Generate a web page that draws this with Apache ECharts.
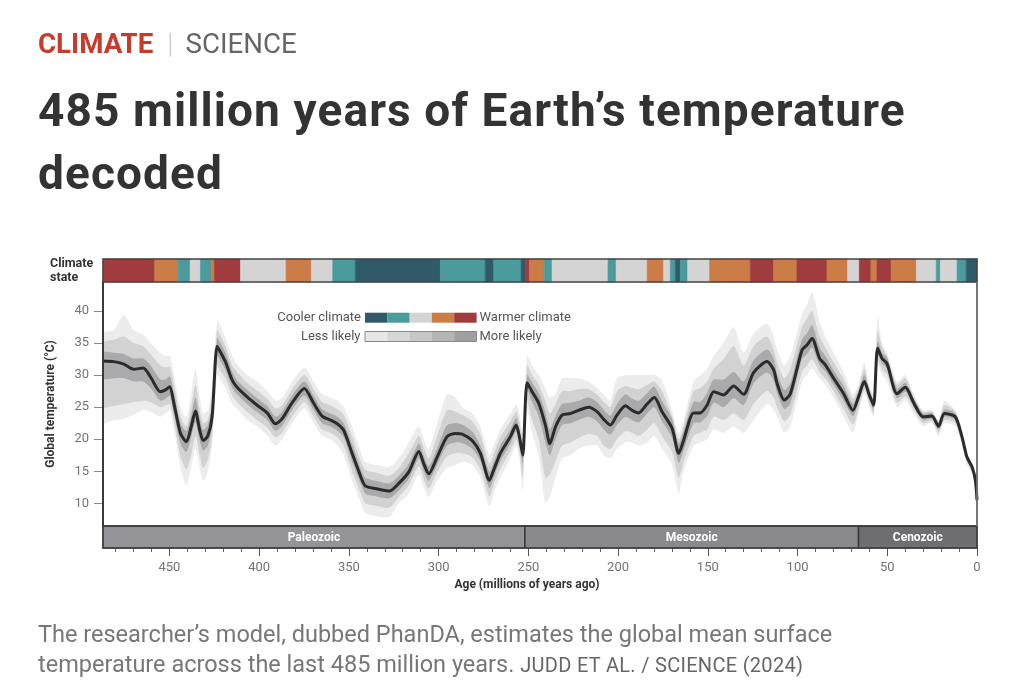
<!DOCTYPE html>
<html><head><meta charset="utf-8">
<script src="https://cdn.jsdelivr.net/npm/echarts@6/dist/echarts.min.js"></script>
<style>
html,body{margin:0;padding:0;background:#fff;width:1024px;height:698px;overflow:hidden;font-family:Roboto,'Noto Sans',sans-serif;}
#chart{position:absolute;left:0;top:0;width:1024px;height:698px;}
.kicker{position:absolute;left:38px;top:29px;font-size:27.7px;line-height:30px;white-space:nowrap;}
.kicker .c{color:#c63b2b;font-weight:700;}
.kicker .sep{color:#c8c8c8;font-weight:300;margin:0 12px 0 14px;}
.kicker .s{color:#666;font-weight:400;}
.title{position:absolute;left:38px;top:79px;font-size:46px;line-height:63px;font-weight:700;color:#333;white-space:nowrap;letter-spacing:1.1px;}
.caption{position:absolute;left:38px;top:619px;font-size:23.5px;line-height:30px;color:#777;white-space:nowrap;}
.caption .credit{font-size:20px;letter-spacing:0.3px;color:#666;}
</style></head>
<body>
<div id="chart"></div>
<div class="kicker"><span class="c">CLIMATE</span><span class="sep">|</span><span class="s">SCIENCE</span></div>
<div class="title">485 million years of Earth’s temperature<br>decoded</div>
<div class="caption">The researcher’s model, dubbed PhanDA, estimates the global mean surface<br>temperature across the last 485 million years. <span class="credit">JUDD ET AL. / SCIENCE (2024)</span></div>
<script>
// ---- Data (ages in millions of years ago) ----
const ages = [487,481,475.4,469.9,464.6,460.5,455,452.2,449.8,447.5,
443.8,440.5,437.9,435.5,433.1,431.2,428.6,426.2,423.4,421.2,
418.8,415,412.3,406.7,401.1,395.5,390.9,387.2,381.6,374.8,
369.6,364.9,360.3,356.5,352.9,348.2,342.6,340.8,335.2,327.4,
322.2,316.6,311,308.3,305.5,300.8,295.3,290.6,286.9,281.3,
276.7,271.7,269.3,265.6,260,256.8,255,253.1,250.7,247.9,
244.2,240.5,238,234.9,231.2,226.6,222,216.4,211.7,208,
204.3,200.6,195.9,192.2,188.5,183.8,179.8,175.5,169.9,166.2,
163.5,157.9,154.2,150.4,146.7,141.2,135.6,130,124.5,117,
113.3,111.4,107.4,104,97.5,94.7,91.9,87.7,84.5,79.9,
74.3,69.1,66,62.8,60,57.6,55.4,52.9,50.1,44.6,
39.9,35.3,30.1,25.1,21.4,18.2,12.1,8.4,5.6,2.8,
0.9,0];
const temp = [32.2,32.1,31.7,30.9,31.1,29.7,27.4,27.7,28.2,25.6,
20.9,19.6,21.9,24.4,21.4,19.8,20.5,23.5,34.5,33.4,
32.1,29.2,28.1,26.6,25.3,24.1,22.4,23.2,25.7,27.9,
25.6,23.6,23,22.4,21.4,17.8,13.6,12.7,12.3,11.9,
13.1,14.9,18.1,16.2,14.6,17.2,20.4,20.9,20.8,19.8,
17.8,13.6,15.2,17.8,20.4,22.2,20.4,17.5,28.8,27.4,
25.6,22.2,19.3,21.9,23.75,24,24.5,25,24.3,23.1,
22.2,23.75,25.2,24.5,24.1,25.5,26.5,24.3,21.7,17.8,
19.8,24.1,24.1,25.3,27.4,26.9,28.3,27,30.4,32.1,
30.8,28.7,26.1,27.1,33.9,34.7,35.7,32.6,31.6,29.5,
27.1,24.5,26.6,29,26.9,25.3,34.2,32.6,31.8,27.1,
28.1,25.7,23.5,23.6,22,24,23.5,20.4,17.2,15.7,
13.6,10.5];
const outerLo = [22.5,23,23.2,23.8,24.5,24.3,23.5,24,24.5,21.5,
15.5,12.8,15.5,18.5,15.5,13.5,15,19,30,29,
28,25.5,24.8,23,22,20.5,19,20,22.5,24.8,
22.5,20.5,20,19,17.5,13.5,9.5,8.5,8,7.9,
10,11.5,14.5,12.5,11,13.5,15.5,16,16.5,16,
14,9.5,11.5,14,17,19,17,12,24.5,21,
17.5,10,11,14,17,17.5,18.5,19,19,17.5,
17,18.5,19.5,19.5,19,19.5,20.5,18.5,16,11.5,
15,19,19.5,20,21.5,21,22,21,23,25.5,
24.5,23.5,21,22,29,30,31,29.5,28.5,26.5,
23.5,21,24,27,25,23.5,31.5,30,29,25,
26,24,22,22.5,20.5,22.5,22,19,16,14.5,
12,9.5];
const outerHi = [36.5,37,39.4,37,36.3,35,33.5,33,33,30,
25,23.5,27,31,26.5,24,24.5,28.5,38.5,37.5,
35.8,33,31.7,30,29,27.5,26,26.5,29,31.2,
29,27,26.5,26,25,22,17.5,16.5,16,15.7,
17,19.5,22,20,18.5,22.5,27,26.5,25,24,
22,17.5,19,21.5,24,25.5,24,21,33,31.5,
30,28,26.5,27,29.5,29.5,29.5,29,28,27,
26,29.5,30,30,30,30,30,29.2,24.5,21,
23,29,30,31,33,35,37.5,33.5,36.5,38,
36,34,31.5,33,39.5,41,43,38.5,36,33.5,
30.5,27,28.5,32,28.5,27,39,35,33.5,29,
30,27,24.5,24.5,23,26,24.5,21.5,18,16.5,
14.5,11.5];
const midLo = [25,25.2,25.5,25.8,26,25.8,25,25.3,25.5,22.8,
17.3,15.3,17.5,20.5,17.5,15.5,16.8,20.5,31.5,30.5,
29.5,26.8,25.8,24.3,23,21.8,20.3,21,23.5,25.8,
23.5,21.5,21,20.3,19,15,11,10,9.6,9.3,
11,12.8,15.8,13.8,12.3,14.8,17.3,17.8,17.8,17.2,
15.3,11,12.8,15.3,18.2,20,18,14,26,23,
20,14,14.5,16.5,19,19.5,20.2,20.8,20.5,19,
18.5,20,21.2,21,20.5,21.5,22.5,20.5,18,14,
16.5,20.5,21,21.5,23.5,23,24,23,25.5,27.5,
26.5,25,22.8,23.8,30.5,31.5,32.5,30.5,29.5,27.5,
24.7,22.3,24.8,27.7,25.6,24,32.3,30.8,30,25.7,
26.7,24.6,22.5,22.8,21,23,22.5,19.5,16.4,14.9,
12.6,9.8];
const midHi = [35,35.5,36,35,34.5,33.3,31.5,31.2,31.3,28.5,
23.5,22,25,28.5,24.5,22.5,23,26.5,37,36,
34.5,31.5,30.5,28.8,27.6,26.3,24.8,25.3,27.8,30,
27.8,25.8,25.3,24.7,23.8,20.5,16,15.2,14.8,14.3,
15.5,17.8,20.5,18.7,17,20.5,24.5,24.3,23.8,22.8,
20.7,16.2,17.7,20.3,22.8,24.3,22.8,20,31.5,30,
28.5,26,24,25.5,27.5,27.5,27.8,27.8,27,25.8,
25,27.5,28.3,28,27.8,28.5,29,27.5,23.5,20,
22,27.5,28,29,31,32.5,34.5,31.5,34.5,36,
34,32,29.5,31,37.5,38.8,40,36,34.3,32,
29.3,26.3,28,31,28,26.5,37,34.3,33,28.5,
29.5,26.7,24.3,24.3,22.8,25.3,24.3,21.2,17.8,16.3,
14.3,11.2];
const innerLo = [29.5,29.5,29.5,29,29,28,26,26.3,26.8,24,
19.3,18,20.3,22.7,19.8,18.2,19,22,33,32,
30.8,28,27,25.5,24.2,23,21.3,22.1,24.6,26.8,
24.5,22.5,22,21.3,20.3,16.5,12.5,11.5,11.1,10.8,
12,13.8,17,15,13.5,16,19,19.5,19.4,18.5,
16.6,12.4,14,16.6,19.3,21.2,19.3,16.2,27.6,25.8,
23.5,19.5,17.5,20,22.2,22.5,23,23.5,22.8,21.5,
20.7,22.2,23.5,23,22.6,24,25,22.8,20.2,16.3,
18.3,22.5,22.6,23.6,25.7,25,26.4,25.3,28.7,30.4,
29.2,27.2,24.7,25.6,32.5,33.3,34.3,31.5,30.6,28.5,
26,23.6,25.8,28.3,26.2,24.7,33.3,31.8,31,26.4,
27.4,25.1,23,23.1,21.5,23.5,23,20,16.8,15.3,
13.1,10.1];
const innerHi = [33.5,33.5,33.3,32.6,32.6,31.5,29.3,29.3,29.8,27.2,
22.5,21.3,23.6,26.5,23.2,21.5,22.2,25.2,35.8,34.8,
33.5,30.5,29.2,27.7,26.4,25.2,23.5,24.3,26.8,29,
26.7,24.7,24,23.5,22.5,19.2,14.8,14,13.5,13.1,
14.3,16.2,19.3,17.4,15.8,18.6,22.2,22.5,22.3,21.2,
19,14.9,16.4,19,21.5,23.3,21.5,18.8,30,28.8,
27.2,24.2,21.5,23.6,25.5,25.7,26,26.5,25.8,24.6,
23.7,25.5,27,26.3,26,27.2,28.2,26,23.2,19.3,
21.3,25.8,25.8,27.2,29.3,29.3,30.5,29,32.3,34,
32.6,30.3,27.7,28.8,35.6,36.5,37.8,34.3,33,30.7,
28.3,25.5,27.5,30,27.6,26,35.3,33.5,32.7,27.9,
28.8,26.3,24,24.1,22.5,24.6,24,20.9,17.6,16.1,
14.1,10.9];

// Climate state segments: boundaries (Ma) and state (0 coolest .. 4 warmest)
const climateBreaks = [487,458.2,445.1,438.4,432.7,426.7,424.9,410.4,385,370.9,359,346.4,299,274,269.3,254,251.6,249.4,241.1,236.8,205.6,201.1,183.8,174.6,170.9,168.1,165.3,161.2,149,126.3,113.3,100.3,83.6,72.1,65.6,59.1,55.7,47.9,33.8,22.7,20.4,11.1,6,0];
const climateState = [4,3,1,2,1,3,4,2,3,2,1,0,1,0,1,0,4,3,1,2,1,2,3,2,1,0,1,2,3,4,3,4,3,2,4,3,4,3,2,1,2,1,0];
const climateColors = ['#30596a','#4b9a9c','#d4d4d4','#cb7c47','#a03c3d'];

// Eras
const eraNames = ['Paleozoic','Mesozoic','Cenozoic'];
const eraStart = [487,251.9,66];
const eraEnd = [251.9,66,0];
const eraColors = ['#949498','#8a8a8e','#6e6e72'];

// Axis ticks
const xMajorTicks = [0,50,100,150,200,250,300,350,400,450];
const xMinorTicks = [10,20,30,40,60,70,80,90,110,120,130,140,160,170,180,190,210,220,230,240,260,270,280,290,310,320,330,340,360,370,380,390,410,420,430,440,460,470,480];
const yTicks = [10,15,20,25,30,35,40];

const likelyColors = ['#e7e7e7','#d6d6d6','#c6c6c6','#b5b5b5','#a0a0a0'];

// ---- Chart ----
const chart = echarts.init(document.getElementById('chart'), null, {renderer:'canvas'});
const FONT = 'Roboto, "Noto Sans", sans-serif';
const L = 103, R = 977, W = R - L;
const TOP = 282, BOT = 526;
const X_MAX = 487;

function pairs(arr){ return ages.map((a,i)=>[a, arr[i]]); }

function band(name, lo, hi, color){
  return {
    type:'custom', name:name, xAxisIndex:1, yAxisIndex:1, silent:true, z:2,
    data:[[ages[0], hi[0]]], encode:{x:0, y:1},
    renderItem:function(params, api){
      const pts = [];
      for (let i=0;i<ages.length;i++) pts.push(api.coord([ages[i], hi[i]]));
      for (let i=ages.length-1;i>=0;i--) pts.push(api.coord([ages[i], lo[i]]));
      return {type:'polygon', shape:{points:pts, smooth:0.25, smoothConstraint:[[L,TOP],[R,BOT]]}, style:{fill:color}};
    }
  };
}

const xHidden = (g)=>({type:'value', gridIndex:g, inverse:true, min:0, max:X_MAX, show:false, axisLine:{onZero:false}});

const option = {
  animation:false,
  grid:[
    {left:L, top:259, width:W, height:23, show:false},
    {left:L, top:TOP, width:W, height:BOT-TOP, show:false},
    {left:L, top:526, width:W, height:22, show:false}
  ],
  xAxis:[
    xHidden(0), xHidden(1),
    {type:'value', gridIndex:2, inverse:true, min:0, max:X_MAX, position:'bottom',
     axisLine:{show:false, onZero:false}, splitLine:{show:false},
     axisTick:{show:true, customValues:xMajorTicks, length:8, lineStyle:{color:'#555', width:1}},
     axisLabel:{show:true, customValues:xMajorTicks, margin:13, fontSize:13, color:'#737373', fontFamily:FONT}},
    {type:'value', gridIndex:2, inverse:true, min:0, max:X_MAX, position:'bottom',
     axisLine:{show:false, onZero:false}, splitLine:{show:false}, axisLabel:{show:false},
     axisTick:{show:true, customValues:xMinorTicks, length:4, lineStyle:{color:'#666', width:1}}}
  ],
  yAxis:[
    {type:'value', gridIndex:0, min:0, max:1, show:false, axisLine:{onZero:false}},
    {type:'value', gridIndex:1, min:6.46, max:44.52, position:'left',
     name:'Global temperature (°C)', nameLocation:'middle', nameGap:46,
     nameTextStyle:{fontWeight:'bold', fontSize:12, color:'#333', fontFamily:FONT},
     axisLine:{show:true, onZero:false, lineStyle:{color:'#3a3a3a', width:2}},
     axisTick:{show:true, customValues:yTicks, length:9, lineStyle:{color:'#888'}},
     axisLabel:{show:true, customValues:yTicks, margin:14, fontSize:13, color:'#737373', fontFamily:FONT},
     splitLine:{show:false}},
    {type:'value', gridIndex:2, min:0, max:1, show:false, axisLine:{onZero:false}}
  ],
  series:[
    {type:'custom', name:'climate', xAxisIndex:0, yAxisIndex:0, silent:true,
     data: climateState.map((s,i)=>[climateBreaks[i], climateBreaks[i+1], s]),
     encode:{x:[0,1]},
     renderItem:function(params, api){
       const p0 = api.coord([api.value(0), 1]);
       const p1 = api.coord([api.value(1), 0]);
       const c = climateColors[api.value(2)];
       return {type:'rect', shape:{x:Math.min(p0[0],p1[0]), y:p0[1], width:Math.abs(p1[0]-p0[0]), height:p1[1]-p0[1]},
               style:{fill:c, stroke:c, lineWidth:0.6}};
     }},
    band('outer', outerLo, outerHi, '#ececec'),
    band('mid', midLo, midHi, '#d2d2d2'),
    band('inner', innerLo, innerHi, '#aaaaac'),
    {type:'line', name:'temperature', xAxisIndex:1, yAxisIndex:1, data:pairs(temp), symbol:'none', smooth:0.25,
     lineStyle:{color:'#2b2b2b', width:3}, silent:true, z:5},
    {type:'custom', name:'eras', xAxisIndex:2, yAxisIndex:2, silent:true,
     data: eraNames.map((n,i)=>[eraStart[i], eraEnd[i]]),
     encode:{x:[0,1]},
     renderItem:function(params, api){
       const i = params.dataIndex;
       const p0 = api.coord([api.value(0), 1]);
       const p1 = api.coord([api.value(1), 0]);
       const x = Math.min(p0[0],p1[0]), w = Math.abs(p1[0]-p0[0]);
       return {type:'group', children:[
         {type:'rect', shape:{x:x, y:p0[1], width:w, height:p1[1]-p0[1]},
          style:{fill:eraColors[i], stroke:'#3a3a3a', lineWidth:1.5}},
         {type:'text', style:{text:eraNames[i], x:x+w/2, y:(p0[1]+p1[1])/2+0.5, align:'center', verticalAlign:'middle',
          fill:'#ffffff', font:'bold 12px '+FONT}}
       ]};
     }}
  ],
  graphic:[
    // frame
    {type:'rect', shape:{x:L, y:259, width:W, height:289}, style:{fill:'none', stroke:'#444', lineWidth:1.5}, z:100, silent:true},
    {type:'line', shape:{x1:L, y1:TOP, x2:R, y2:TOP}, style:{stroke:'#444', lineWidth:1.5}, z:100, silent:true},
    {type:'line', shape:{x1:L, y1:BOT, x2:R, y2:BOT}, style:{stroke:'#3a3a3a', lineWidth:1.5}, z:100, silent:true},
    {type:'line', shape:{x1:L, y1:TOP, x2:L, y2:BOT}, style:{stroke:'#3a3a3a', lineWidth:2}, z:100, silent:true},
    {type:'line', shape:{x1:R, y1:TOP, x2:R, y2:BOT}, style:{stroke:'#777', lineWidth:1.5}, z:100, silent:true},
    // climate state label
    {type:'text', left:50, top:257, style:{text:'Climate\nstate', font:'bold 12.5px '+FONT, fill:'#333', lineHeight:14}, silent:true},
    // x-axis title
    {type:'text', x:527, y:585, style:{text:'Age (millions of years ago)', font:'bold 12px '+FONT, fill:'#333', align:'center', verticalAlign:'middle'}, silent:true},
    // legend: climate
    {type:'text', x:361, y:317.5, z:100, style:{text:'Cooler climate', font:'13px '+FONT, fill:'#555', align:'right', verticalAlign:'middle'}, silent:true},
    {type:'text', x:479.5, y:317.5, z:100, style:{text:'Warmer climate', font:'13px '+FONT, fill:'#555', align:'left', verticalAlign:'middle'}, silent:true},
    ...climateColors.map((c,i)=>({type:'rect', z:100, shape:{x:365+i*22.3, y:312.7, width:22.4, height:10}, style:{fill:c}, silent:true})),
    {type:'text', x:360.5, y:336.5, z:100, style:{text:'Less likely', font:'13px '+FONT, fill:'#555', align:'right', verticalAlign:'middle'}, silent:true},
    {type:'text', x:479.5, y:336.5, z:100, style:{text:'More likely', font:'13px '+FONT, fill:'#555', align:'left', verticalAlign:'middle'}, silent:true},
    ...likelyColors.map((c,i)=>({type:'rect', z:100, shape:{x:365+i*22.3, y:331.5, width:22.4, height:10}, style:{fill:c}, silent:true})),
    {type:'rect', z:101, shape:{x:365, y:331.5, width:111.5, height:10}, style:{fill:'none', stroke:'#8a8a8a', lineWidth:1}, silent:true}
  ]
};
chart.setOption(option);
</script>
</body></html>
